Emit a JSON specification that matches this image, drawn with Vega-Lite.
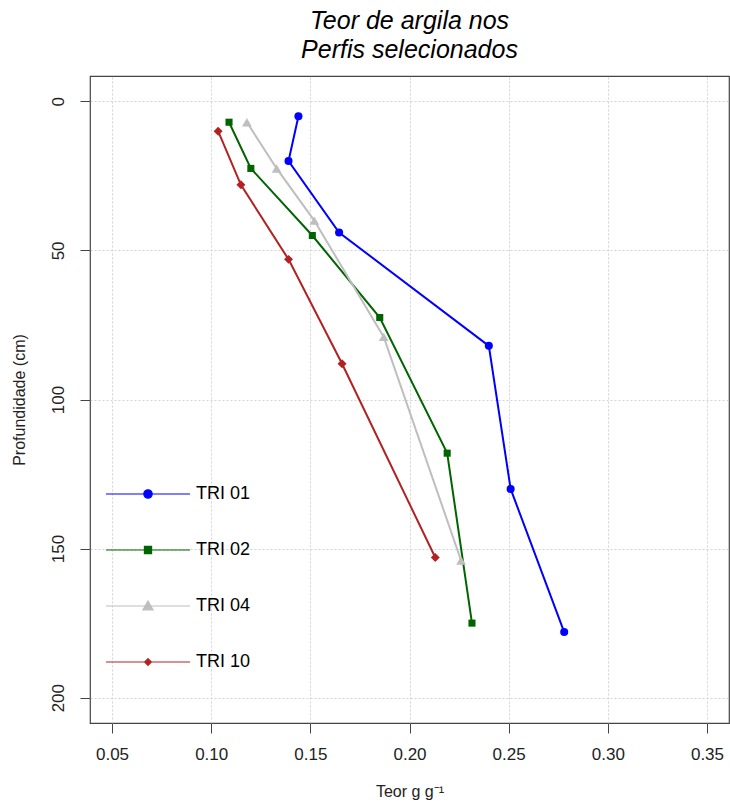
{
  "$schema": "https://vega.github.io/schema/vega-lite/v6.json",
  "width": 639,
  "height": 647,
  "autosize": "none",
  "padding": {"left": 90, "top": 76, "right": 1, "bottom": 85},
  "background": "white",
  "title": {
    "text": ["Teor de argila nos", " Perfis selecionados"],
    "font": "Liberation Sans",
    "fontSize": 25,
    "fontStyle": "italic",
    "fontWeight": "normal",
    "color": "black",
    "anchor": "middle",
    "offset": 13,
    "lineHeight": 29
  },
  "data": {
    "values": [
      {"serie": "TRI 01", "teor": 0.144, "prof": 5},
      {"serie": "TRI 01", "teor": 0.139, "prof": 20},
      {"serie": "TRI 01", "teor": 0.1645, "prof": 44},
      {"serie": "TRI 01", "teor": 0.240, "prof": 82},
      {"serie": "TRI 01", "teor": 0.251, "prof": 130},
      {"serie": "TRI 01", "teor": 0.278, "prof": 178},
      {"serie": "TRI 02", "teor": 0.109, "prof": 7},
      {"serie": "TRI 02", "teor": 0.120, "prof": 22.5},
      {"serie": "TRI 02", "teor": 0.151, "prof": 45},
      {"serie": "TRI 02", "teor": 0.185, "prof": 72.5},
      {"serie": "TRI 02", "teor": 0.219, "prof": 118},
      {"serie": "TRI 02", "teor": 0.2315, "prof": 175},
      {"serie": "TRI 04", "teor": 0.118, "prof": 7},
      {"serie": "TRI 04", "teor": 0.133, "prof": 22.5},
      {"serie": "TRI 04", "teor": 0.152, "prof": 40},
      {"serie": "TRI 04", "teor": 0.187, "prof": 79},
      {"serie": "TRI 04", "teor": 0.226, "prof": 154},
      {"serie": "TRI 10", "teor": 0.1035, "prof": 10},
      {"serie": "TRI 10", "teor": 0.115, "prof": 28},
      {"serie": "TRI 10", "teor": 0.139, "prof": 53},
      {"serie": "TRI 10", "teor": 0.166, "prof": 88},
      {"serie": "TRI 10", "teor": 0.213, "prof": 153}
    ]
  },
  "encoding": {
    "x": {
      "field": "teor",
      "type": "quantitative",
      "scale": {"domain": [0.0389, 0.3611], "nice": false, "zero": false},
      "axis": {
        "title": "Teor g g⁻¹",
        "values": [0.05, 0.1, 0.15, 0.2, 0.25, 0.3, 0.35],
        "format": ".2f",
        "labelPadding": 13,
        "titlePadding": 21
      }
    },
    "y": {
      "field": "prof",
      "type": "quantitative",
      "scale": {"domain": [-8.5, 208.5], "nice": false, "zero": false, "reverse": true},
      "axis": {
        "title": "Profundidade (cm)",
        "values": [0, 50, 100, 150, 200],
        "labelAngle": 270,
        "labelAlign": "center",
        "labelBaseline": "bottom",
        "labelPadding": 13,
        "titlePadding": 22
      }
    },
    "color": {
      "field": "serie",
      "type": "nominal",
      "scale": {
        "domain": ["TRI 01", "TRI 02", "TRI 04", "TRI 10"],
        "range": ["#0000ff", "#006400", "#bebebe", "#b22222"]
      },
      "legend": {
        "orient": "none",
        "legendX": 15,
        "legendY": 375,
        "title": null,
        "padding": 0,
        "symbolSize": 7056,
        "symbolStrokeWidth": 1.2,
        "symbolType": "M-1,0H1",
        "labelFont": "Liberation Sans",
        "labelFontSize": 18,
        "labelColor": "black",
        "labelOffset": 5,
        "rowPadding": 4,
        "encode": {
          "symbols": {
            "update": {
              "shape": {"signal": "datum.value === 'TRI 01' ? 'M-1,0H1M0.1,0A0.1,0.1,0,1,1,-0.1,0A0.1,0.1,0,1,1,0.1,0Z' : datum.value === 'TRI 02' ? 'M-1,0H1M-0.085,-0.085H0.085V0.085H-0.085Z' : datum.value === 'TRI 04' ? 'M-1,0H1M0,-0.12L0.12,0.09H-0.12Z' : 'M-1,0H1M0,-0.08L0.08,0L0,0.08L-0.08,0Z'"},
              "size": {"value": 7056},
              "stroke": {"signal": "scale('color', datum.value)"},
              "fill": {"signal": "scale('color', datum.value)"},
              "strokeWidth": {"value": 1.2},
              "opacity": {"value": 1}
            }
          }
        }
      }
    }
  },
  "layer": [
    {
      "mark": {"type": "line", "strokeWidth": 2},
      "encoding": {"order": {"field": "prof", "type": "quantitative"}}
    },
    {
      "mark": {"type": "point", "filled": true, "opacity": 1},
      "encoding": {
        "shape": {
          "field": "serie",
          "type": "nominal",
          "scale": {
            "domain": ["TRI 10", "TRI 04", "TRI 02", "TRI 01"],
            "range": ["diamond", "triangle-up", "square", "circle"]
          },
          "legend": null
        },
        "size": {
          "field": "serie",
          "type": "nominal",
          "scale": {
            "domain": ["TRI 04", "TRI 10", "TRI 01", "TRI 02"],
            "range": [95, 50, 100, 100]
          },
          "legend": null
        }
      }
    }
  ],
  "config": {
    "view": {"stroke": "#444", "strokeWidth": 1.2},
    "axis": {
      "domain": false,
      "tickColor": "#444",
      "tickSize": 10,
      "labelFont": "Liberation Sans",
      "labelFontSize": 17,
      "labelColor": "#222",
      "titleFont": "Liberation Sans",
      "titleFontSize": 16,
      "titleFontWeight": "normal",
      "titleColor": "#222",
      "gridColor": "#d3d3d3",
      "gridDash": [2, 2],
      "gridWidth": 1
    }
  }
}
